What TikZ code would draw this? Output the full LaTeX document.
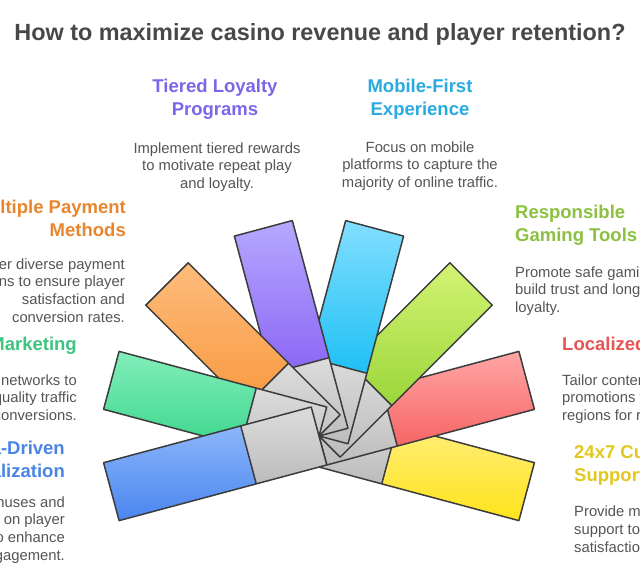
\documentclass[tikz,border=0pt]{standalone}
\usepackage{fontspec}
\setmainfont{Liberation Sans}
\usetikzlibrary{calc}
\definecolor{titlec}{HTML}{484848}
\definecolor{descc}{HTML}{555555}
\definecolor{edgec}{HTML}{3C3C3C}
\definecolor{grayT}{HTML}{DCDCDC}
\definecolor{grayB}{HTML}{BCBCBC}
\definecolor{purpleH}{HTML}{7A67E8}
\definecolor{cyanH}{HTML}{29AAE1}
\definecolor{orangeH}{HTML}{E8862E}
\definecolor{greenH}{HTML}{3DC47E}
\definecolor{blueH}{HTML}{4A85E6}
\definecolor{limeH}{HTML}{8CC040}
\definecolor{redH}{HTML}{E85555}
\definecolor{yellowH}{HTML}{E2C81E}
\definecolor{blueT}{HTML}{8CB6FA}
\definecolor{blueB}{HTML}{4A85F0}
\definecolor{tealT}{HTML}{82EEBA}
\definecolor{tealB}{HTML}{3DD68C}
\definecolor{orangeT}{HTML}{FFBC7C}
\definecolor{orangeB}{HTML}{F7993F}
\definecolor{purpleT}{HTML}{B6A8FF}
\definecolor{purpleB}{HTML}{8A66F5}
\definecolor{cyanT}{HTML}{82DEFF}
\definecolor{cyanB}{HTML}{1EC0F5}
\definecolor{limeT}{HTML}{D4F374}
\definecolor{limeB}{HTML}{9AD63A}
\definecolor{redT}{HTML}{FFA6A6}
\definecolor{redB}{HTML}{F76464}
\definecolor{yellowT}{HTML}{FFEE7A}
\definecolor{yellowB}{HTML}{FFE31A}
\tikzset{
  outline/.style={draw=edgec, line width=1.5pt, line join=round},
  headtxt/.style={font=\bfseries\fontsize{18.5}{23.5}\selectfont, inner sep=0pt},
  desctxt/.style={font=\fontsize{14.8}{17.7}\selectfont, text=descc, inner sep=0pt},
}
\newcommand\hs{\rule{0pt}{16.65pt}}
\newcommand\ds{\rule{0pt}{13.32pt}}
\newcommand\fanblade[4]{%
  \coordinate (#2a) at ($(P)+(#1+90:30pt)$);
  \coordinate (#2b) at ($(P)+(#1-90:30pt)$);
  \coordinate (#2c) at ($(#2a)+(#1:73pt)$);
  \coordinate (#2d) at ($(#2b)+(#1:73pt)$);
  \coordinate (#2e) at ($(#2a)+(#1:215pt)$);
  \coordinate (#2f) at ($(#2b)+(#1:215pt)$);
  \shade[top color=grayT, bottom color=grayB] (#2a) -- (#2c) -- (#2d) -- (#2b) -- cycle;
  \shade[top color=#3, bottom color=#4] (#2c) -- (#2e) -- (#2f) -- (#2d) -- cycle;
  \draw[outline] (#2a) -- (#2e) -- (#2f) -- (#2b) -- cycle (#2c) -- (#2d);
}
\begin{document}
\begin{tikzpicture}[x=1pt,y=-1pt]
\useasboundingbox (0,0) rectangle (640,577);
\clip (0,0) rectangle (640,577);
\fill[white] (0,0) rectangle (640,577);

\node[font=\bfseries\fontsize{23.4}{28}\selectfont, text=titlec, anchor=base, inner sep=0pt] (title) at (320,41) {How to maximize casino revenue and player retention?};

\coordinate (P) at (319,436);
\fanblade{-15}{yel}{yellowT}{yellowB}
\fanblade{15}{red}{redT}{redB}
\fanblade{45}{lim}{limeT}{limeB}
\fanblade{75}{cya}{cyanT}{cyanB}
\fanblade{105}{pur}{purpleT}{purpleB}
\fanblade{135}{ora}{orangeT}{orangeB}
\fanblade{165}{tea}{tealT}{tealB}
\fanblade{195}{blu}{blueT}{blueB}

% top
\node[headtxt, text=purpleH, align=center, anchor=north] (h1) at (215,75.35) {\hs Tiered Loyalty\\Programs};
\node[desctxt, align=center, anchor=north] (d1) at (217,139.68) {\ds Implement tiered rewards\\to motivate repeat play\\and loyalty.};
\node[headtxt, text=cyanH, align=center, anchor=north] (h2) at (420,75.35) {\hs Mobile-First\\Experience};
\node[desctxt, align=center, anchor=north] (d2) at (420,138.68) {\ds Focus on mobile\\platforms to capture the\\majority of online traffic.};
% left
\node[headtxt, text=orangeH, align=right, anchor=north east] (h3) at (126,196.35) {\hs Multiple Payment\\Methods};
\node[desctxt, align=right, anchor=north east] (d3) at (125,255.68) {\ds Offer diverse payment\\options to ensure player\\satisfaction and\\conversion rates.};
\node[headtxt, text=greenH, align=right, anchor=north east] (h4) at (77,333.85) {\hs Affiliate Marketing};
\node[desctxt, align=right, anchor=north east] (d4) at (77,371.68) {\ds Use affiliate networks to\\drive quality traffic\\and boost conversions.};
\node[headtxt, text=blueH, align=right, anchor=north east] (h5) at (65,437.35) {\hs Data-Driven\\Personalization};
\node[desctxt, align=right, anchor=north east] (d5) at (65,493.68) {\ds Tailor bonuses and\\offers based on player\\data to enhance\\engagement.};
% right
\node[headtxt, text=limeH, align=left, anchor=north west] (h6) at (515,201.35) {\hs Responsible\\Gaming Tools};
\node[desctxt, align=left, anchor=north west] (d6) at (515,263.68) {\ds Promote safe gaming to\\build trust and long-term\\loyalty.};
\node[headtxt, text=redH, align=left, anchor=north west] (h7) at (562,333.35) {\hs Localized Content};
\node[desctxt, align=left, anchor=north west] (d7) at (562,371.68) {\ds Tailor content and\\promotions to specific\\regions for relevance.};
\node[headtxt, text=yellowH, align=left, anchor=north west] (h8) at (574,441.35) {\hs 24x7 Customer\\Support};
\node[desctxt, align=left, anchor=north west] (d8) at (574,503.4) {\ds Provide multilingual\\support to increase\\satisfaction.};
\end{tikzpicture}
\end{document}
